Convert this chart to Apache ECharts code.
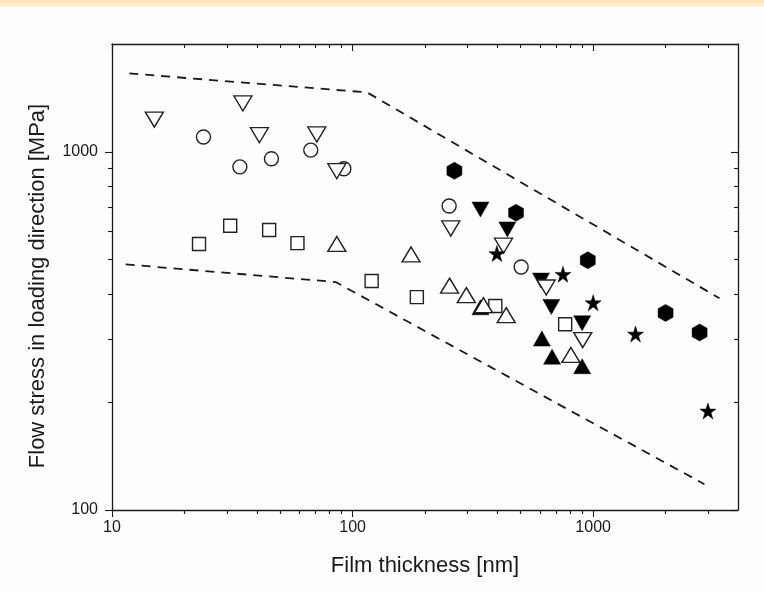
<!DOCTYPE html>
<html><head><meta charset="utf-8">
<script src="https://cdn.jsdelivr.net/npm/echarts@6/dist/echarts.min.js"></script>
<style>html,body{margin:0;padding:0;background:#fdfdfd}#c{width:764px;height:592px}</style>
</head><body><div id="c"></div>
<script>
// ---- tick values ----
const xMajorTicks = [10, 100, 1000];
const xMinorTicks = [20, 30, 40, 50, 60, 70, 80, 90, 200, 300, 400, 500, 600, 700, 800, 900, 2000, 3000];
const yMajorTicks = [100, 1000];
const yMinorTicks = [200, 300, 400, 500, 600, 700, 800, 900];

// ---- data: [film thickness nm, flow stress MPa] ----
const openSquare   = [[23,553],[31,622],[45,605],[59,556],[120,436],[185,393],[392,371],[765,330]];
const openCircle   = [[24,1100],[34,908],[46,956],[67,1011],[92,897],[252,706],[502,477]];
const openTriUp    = [[86,553],[175,517],[253,423],[297,398],[350,373],[435,350],[808,271]];
const openTriDown  = [[15,1230],[35,1365],[41,1113],[71,1118],[86,883],[256,611],[424,547],[638,418],[905,298]];
const filledTriUp  = [[340,368],[612,301],[675,268],[900,252]];
const filledTriDown= [[340,690],[440,607],[607,437],[670,369],[900,332]];
const filledHex    = [[265,885],[478,676],[950,498],[2000,355],[2770,313]];
const filledStar   = [[398,520],[749,455],[1000,379],[1500,310],[3000,189]];
const upperBound   = [[11.8,1655],[115,1465],[3350,390]];
const lowerBound   = [[11.4,485],[85,433],[2900,118]];

const FONT = 'Liberation Sans, Arial, sans-serif';
const INK = '#1a1a1a';
const HEX = 'path://M50,0 L93.3,25 L93.3,75 L50,100 L6.7,75 L6.7,25 Z';
const STAR = 'path://M50,0 L61.17,34.63 L97.55,34.55 L68.07,55.87 L79.39,90.45 L50,69 L20.61,90.45 L31.93,55.87 L2.45,34.55 L38.83,34.63 Z';

const gridRect = {left:112, top:44, width:626, height:466};

function xAx(gridIndex, position, ticks, len, inside, showLine, showLabel) {
  return {
    type:'log', gridIndex, position, min:10, max:4000, logBase:10,
    axisLine:{show:showLine, lineStyle:{color:INK, width:1.3}},
    axisTick:{show:true, customValues:ticks, length:len, inside, lineStyle:{color:INK, width:1.1}},
    axisLabel:{show:showLabel, customValues:xMajorTicks, color:INK, fontFamily:FONT, fontSize:16, margin:10,
      formatter:v=>String(Math.round(v))},
    splitLine:{show:false}, minorTick:{show:false}
  };
}
function yAx(gridIndex, position, ticks, len, inside, showLine, showLabel) {
  return {
    type:'log', gridIndex, position, min:100, max:2000, logBase:10,
    axisLine:{show:showLine, lineStyle:{color:INK, width:1.3}},
    axisTick:{show:true, customValues:ticks, length:len, inside, lineStyle:{color:INK, width:1.1}},
    axisLabel:{show:showLabel, customValues:yMajorTicks, color:INK, fontFamily:FONT, fontSize:16, margin:14,
      formatter:v=>String(Math.round(v))},
    splitLine:{show:false}, minorTick:{show:false}
  };
}

const xAxes = [
  Object.assign(xAx(0,'bottom',xMajorTicks,7,false,true,true), {
    name:'Film thickness [nm]', nameLocation:'middle', nameGap:45,
    nameTextStyle:{color:INK, fontFamily:FONT, fontSize:22}}),
  xAx(0,'top',xMajorTicks,7,true,true,false),
  xAx(1,'bottom',xMinorTicks,4,false,false,false),
  xAx(1,'top',xMinorTicks,4,true,false,false)
];
const yAxes = [
  Object.assign(yAx(0,'left',yMajorTicks,7,false,true,true), {
    name:'Flow stress in loading direction [MPa]', nameLocation:'middle', nameGap:63,
    nameTextStyle:{color:INK, fontFamily:FONT, fontSize:22, padding:[0,18,0,0]}}),
  yAx(0,'right',yMajorTicks,7,true,true,false),
  yAx(1,'left',yMinorTicks,4,false,false,false),
  yAx(1,'right',yMinorTicks,4,true,false,false)
];

function sc(name, data, symbol, size, filled, rotate) {
  return {
    type:'scatter', name, data, symbol, symbolSize:size, symbolRotate:rotate||0,
    xAxisIndex:0, yAxisIndex:0,
    itemStyle: filled ? {color:'#000', borderColor:'#000', borderWidth:0.5, opacity:1}
                      : {color:'#fff', borderColor:'#222', borderWidth:1.4, opacity:1},
    emphasis:{disabled:true}
  };
}
function dash(name, data) {
  return {type:'line', name, data, symbol:'none', xAxisIndex:0, yAxisIndex:0,
    lineStyle:{color:INK, width:1.8, type:[9,7]}, emphasis:{disabled:true}, z:1};
}

const option = {
  animation:false,
  backgroundColor:'#fdfdfd',
  graphic:[{type:'rect', left:0, top:0, shape:{width:764, height:7},
    style:{fill:{type:'linear', x:0, y:0, x2:0, y2:1, colorStops:[{offset:0,color:'#fbe3b8'},{offset:1,color:'#fdf0d8'}]}}}],
  grid:[Object.assign({}, gridRect), Object.assign({}, gridRect)],
  xAxis: xAxes,
  yAxis: yAxes,
  series:[
    dash('upper', upperBound),
    dash('lower', lowerBound),
    sc('filledTriUp', filledTriUp, 'triangle', [17,15], true),
    sc('filledTriDown', filledTriDown, 'triangle', [17,15], true, 180),
    sc('filledHex', filledHex, HEX, [15,17], true),
    sc('openSquare', openSquare, 'rect', 13, false),
    sc('openCircle', openCircle, 'circle', 14, false),
    sc('openTriUp', openTriUp, 'triangle', [18,15], false),
    sc('openTriDown', openTriDown, 'triangle', [18,15], false, 180),
    sc('filledStar', filledStar, STAR, 16, true)
  ]
};
const chart = echarts.init(document.getElementById('c'), null, {renderer:'canvas'});
chart.setOption(option);
</script></body></html>
